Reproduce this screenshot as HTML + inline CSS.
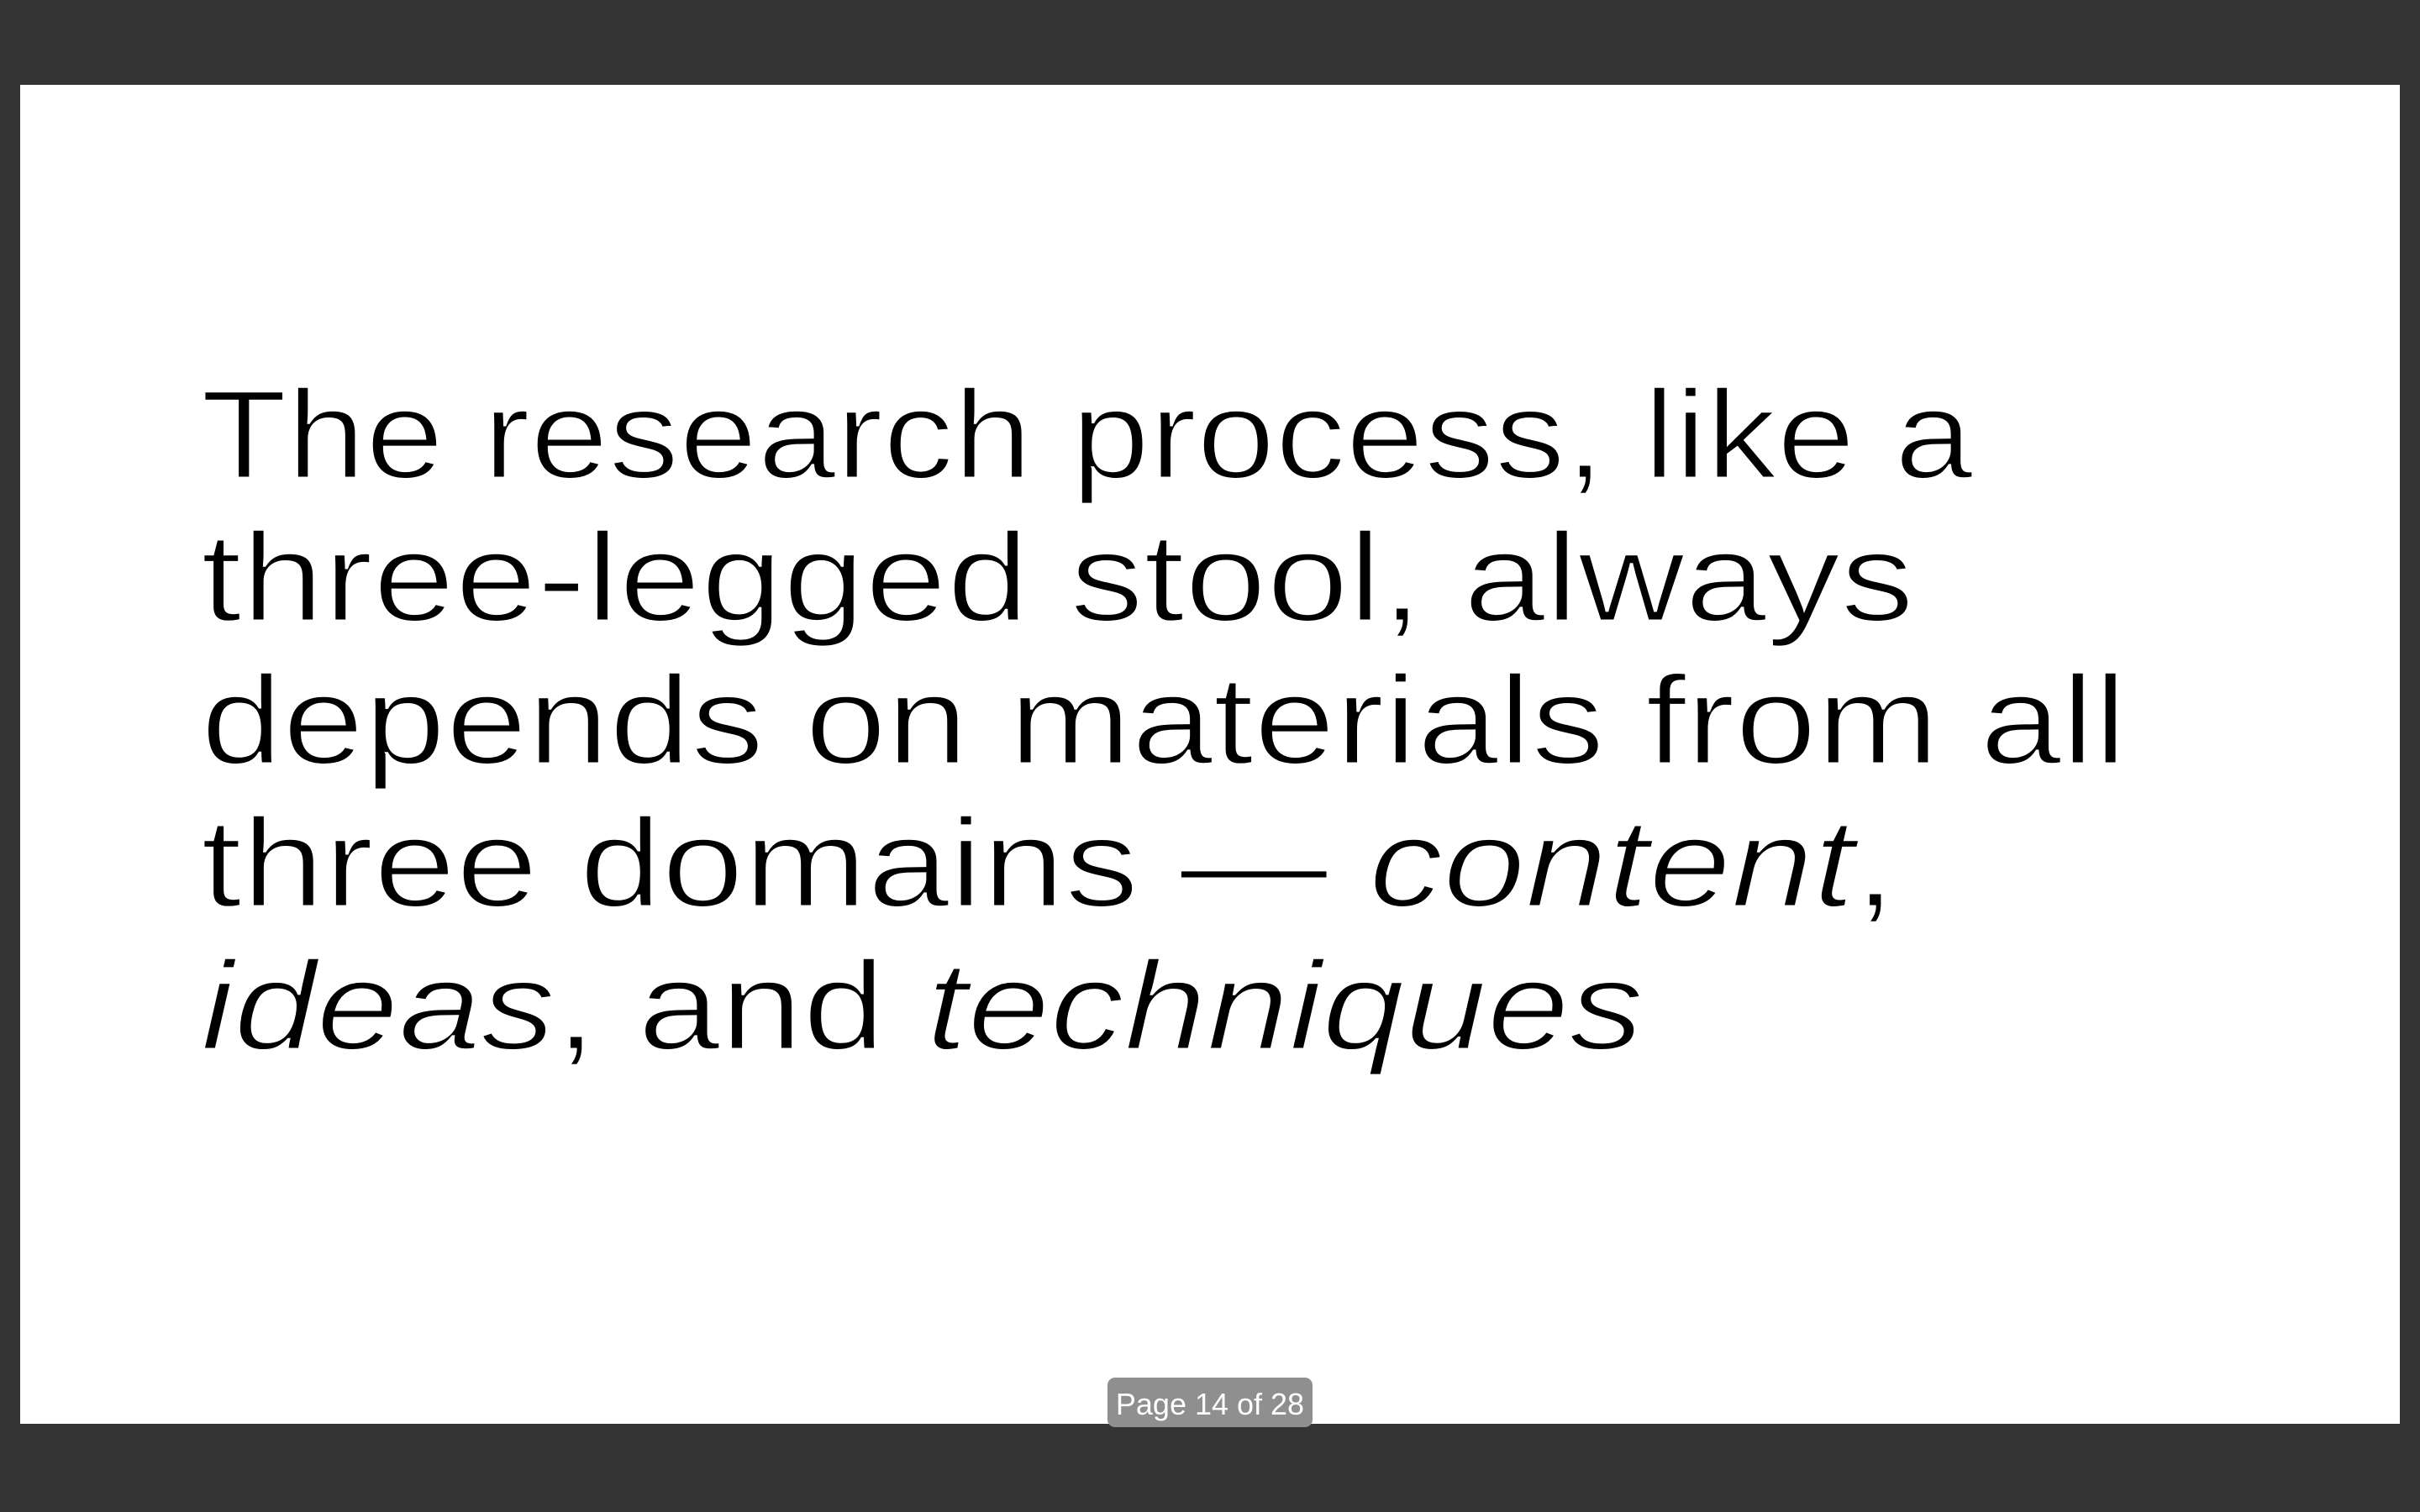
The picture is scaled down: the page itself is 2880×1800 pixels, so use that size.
<!DOCTYPE html>
<html><head><meta charset="utf-8"><style>
html,body{margin:0;padding:0;width:2880px;height:1800px;background:#333333;overflow:hidden}
svg{position:absolute;left:0;top:0}
</style></head><body>
<svg width="2880" height="1800" xmlns="http://www.w3.org/2000/svg">
<rect x="0" y="0" width="2880" height="1800" fill="#333333"/>
<rect x="24" y="101" width="2832" height="1594" fill="#ffffff"/>
<g font-family="Liberation Sans, sans-serif" font-size="150" fill="#000" stroke="#fff" stroke-width="3">
<text x="239" y="569" textLength="2109" lengthAdjust="spacingAndGlyphs">The research process, like a</text>
<text x="239" y="739" textLength="2039" lengthAdjust="spacingAndGlyphs">three-legged stool, always</text>
<text x="239" y="909" textLength="2292" lengthAdjust="spacingAndGlyphs">depends on materials from all</text>
<text x="239" y="1079" textLength="2017" lengthAdjust="spacingAndGlyphs">three domains — <tspan font-style="italic">content</tspan>,</text>
<text x="239" y="1249" textLength="1717" lengthAdjust="spacingAndGlyphs"><tspan font-style="italic">ideas</tspan>, and <tspan font-style="italic">techniques</tspan></text>
</g>
<rect x="1318" y="1640" width="244" height="59" rx="9" fill="#8f8f8f"/>
<text x="1440" y="1684" text-anchor="middle" font-family="Liberation Sans, sans-serif" font-size="36" fill="#ffffff">Page 14 of 28</text>
</svg>
</body></html>
